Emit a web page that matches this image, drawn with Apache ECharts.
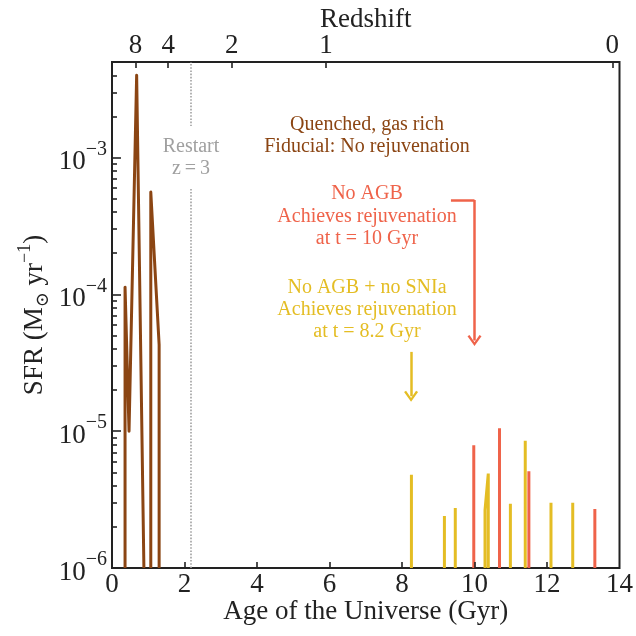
<!DOCTYPE html>
<html><head><meta charset="utf-8">
<script src="https://cdn.jsdelivr.net/npm/echarts@6/dist/echarts.min.js"></script>
<style>html,body{margin:0;padding:0;background:#fff}#c{width:636px;height:636px}</style>
</head><body><div id="c"></div>
<script>
const FONT = '"Liberation Serif","DejaVu Serif","Times New Roman",serif';
const FLOOR = 1e-6; // SFR at / below the bottom of the plotted range

// Quenched, gas rich (fiducial): age (Gyr) and SFR (Msun/yr); null = gap
const brownAge = [0.36, 0.36, 0.47, 0.68, 0.88, null, 1.07, 1.07, 1.30, 1.30];
const brownSFR = [FLOOR, 1.13e-4, 1.0e-5, 4.0e-3, FLOOR, null, FLOOR, 5.6e-4, 4.3e-5, FLOOR];

// No AGB: spikes
const redAge = [9.98, 10.69, 11.50, 13.32];
const redSFR = [7.9e-6, 1.05e-5, 5.1e-6, 2.7e-6];

// No AGB + no SNIa: spikes
const yellowAge = [8.26, 9.17, 9.47, 10.29, 10.38, 10.99, 11.40, 12.11, 12.71];
const yellowSFR = [4.8e-6, 2.4e-6, 2.75e-6, 2.65e-6, 4.9e-6, 2.95e-6, 8.5e-6, 3.0e-6, 3.0e-6];

// Top axis: redshift ticks
const redshiftLabels = ['8', '4', '2', '1', '0'];
const redshiftAge = [0.65, 1.55, 3.3, 5.9, 13.8];

// Restart epoch (z = 3)
const restartAge = 2.16;

// Arrows (age, SFR)
const redArrowAge = [9.35, 10.0, 10.0];
const redArrowSFR = [4.9e-4, 4.9e-4, 4.6e-5];
const yellowArrowAge = [8.25, 8.25];
const yellowArrowSFR = [3.8e-5, 1.8e-5];

const X_MIN = 0, X_MAX = 14, X_STEP = 2;
const Y_MIN = 1e-6, Y_MAX = 5e-3;
const yMajor = [1e-6, 1e-5, 1e-4, 1e-3];
const yMinor = [];
for (let k = -6; k <= -3; k++) for (let m = 2; m <= 9; m++) { const v = m * Math.pow(10, k); if (v < Y_MAX) yMinor.push(v); }

const BROWN = '#8B4513', RED = '#EF634A', YELLOW = '#E4BD24', GRAY = '#A0A0A0', INK = '#222';

function pairs(ages, sfr) {
  return ages.map((a, i) => a === null ? ['-', '-'] : [a, sfr[i]]);
}
function spikeLine(ages, sfr) {
  const out = [];
  for (let i = 0; i < ages.length; i++) {
    const joined = i > 0 && ages[i] - ages[i - 1] < 0.15;
    if (!joined) {
      if (out.length) { out.push([ages[i - 1], FLOOR]); out.push(['-', '-']); }
      out.push([ages[i], FLOOR]);
    }
    out.push([ages[i], sfr[i]]);
  }
  out.push([ages[ages.length - 1], FLOOR]);
  return out;
}
const chevron = 'path://M7,0 L14,10 L12,11.2 L7,3.8 L2,11.2 L0,10 Z';
const GRID = { left: 112, right: 15, top: 62, bottom: 68 };

// tick marks drawn inward through the axes' scales (lengths in px converted to data units)
const PLOT_W = 636 - GRID.left - GRID.right, PLOT_H = 636 - GRID.top - GRID.bottom;
const gyrPerPx = (X_MAX - X_MIN) / PLOT_W;
const decPerPx = Math.log10(Y_MAX / Y_MIN) / PLOT_H;
const tickSegs = [];
for (let t = X_MIN + X_STEP; t < X_MAX; t += X_STEP)
  tickSegs.push([{ coord: [t, Y_MIN] }, { coord: [t, Y_MIN * Math.pow(10, 6 * decPerPx)] }]);
redshiftAge.forEach(t => tickSegs.push([{ coord: [t, Y_MAX] }, { coord: [t, Y_MAX / Math.pow(10, 6 * decPerPx)] }]));
yMajor.slice(1).forEach(v => tickSegs.push([{ coord: [X_MIN, v] }, { coord: [X_MIN + 9 * gyrPerPx, v] }]));
yMinor.forEach(v => tickSegs.push([{ coord: [X_MIN, v] }, { coord: [X_MIN + 5 * gyrPerPx, v] }]));

const chart = echarts.init(document.getElementById('c'));
chart.setOption({
  animation: false,
  grid: Object.assign({ show: true, borderColor: INK, borderWidth: 2, backgroundColor: 'transparent' }, GRID),
  xAxis: [
    { type: 'value', min: X_MIN, max: X_MAX, interval: X_STEP, position: 'bottom',
      name: 'Age of the Universe (Gyr)', nameLocation: 'middle', nameGap: 30, nameMoveOverlap: false,
      nameTextStyle: { fontFamily: FONT, fontSize: 27, color: INK },
      axisLine: { show: false }, axisTick: { show: false },
      axisLabel: { show: true, fontFamily: FONT, fontSize: 27, color: INK, margin: 3 },
      splitLine: { show: false } },
    { type: 'value', min: X_MIN, max: X_MAX, position: 'top',
      name: 'Redshift', nameLocation: 'middle', nameGap: 29, nameMoveOverlap: false,
      nameTextStyle: { fontFamily: FONT, fontSize: 27, color: INK },
      axisLine: { show: false }, axisTick: { show: false },
      axisLabel: { show: true, customValues: redshiftAge, fontFamily: FONT, fontSize: 27, color: INK, margin: 3,
        formatter: v => { let bi = 0; redshiftAge.forEach((a, i) => { if (Math.abs(a - v) < Math.abs(redshiftAge[bi] - v)) bi = i; }); return redshiftLabels[bi]; } },
      splitLine: { show: false } }
  ],
  yAxis: [
    { type: 'log', logBase: 10, min: Y_MIN, max: Y_MAX, position: 'left',
      name: '{a|SFR (M}{sub|⊙}{a| yr}{sup|−1}{a|)}', nameLocation: 'middle', nameRotate: 90, nameGap: 57, nameMoveOverlap: false,
      nameTextStyle: { color: INK, rich: {
        a: { fontFamily: FONT, fontSize: 27, color: INK, lineHeight: 40 },
        sub: { fontFamily: FONT, fontSize: 18, color: INK, lineHeight: 40, verticalAlign: 'bottom', padding: [0, 0, 3, 0] },
        sup: { fontFamily: FONT, fontSize: 18, color: INK, lineHeight: 40, verticalAlign: 'top', padding: [1, 0, 0, 0] } } },
      axisLine: { show: false }, axisTick: { show: false },
      axisLabel: { show: true, customValues: yMajor, margin: 5,
        formatter: v => '{b|10}{s|−' + Math.abs(Math.round(Math.log10(v))) + '}',
        rich: {
          b: { fontFamily: FONT, fontSize: 27, color: INK, verticalAlign: 'bottom', lineHeight: 36 },
          s: { fontFamily: FONT, fontSize: 20, color: INK, verticalAlign: 'top', lineHeight: 36 } } },
      splitLine: { show: false } }
  ],
  series: [
    { type: 'line', data: [], silent: true,
      markLine: { silent: true, symbol: 'none', label: { show: false }, animation: false,
        lineStyle: { color: INK, type: 'solid', width: 1.6 }, emphasis: { disabled: true }, data: tickSegs } },
    { type: 'line', data: pairs(brownAge, brownSFR), showSymbol: false, clip: true,
      lineStyle: { color: BROWN, width: 3, join: 'round' }, silent: true, z: 3,
      markLine: { silent: true, symbol: 'none', label: { show: false },
        lineStyle: { color: GRAY, type: 'dotted', width: 1.6 }, data: [{ xAxis: restartAge }] } },
    { type: 'line', data: spikeLine(redAge, redSFR), showSymbol: false, clip: true,
      lineStyle: { color: RED, width: 3 }, silent: true,
      markLine: { silent: true, label: { show: false }, symbolSize: [14, 11],
        lineStyle: { color: RED, type: 'solid', width: 2.5 },
        data: [
          [{ coord: [redArrowAge[0], redArrowSFR[0]], symbol: 'none' }, { coord: [redArrowAge[1], redArrowSFR[1]], symbol: 'none' }],
          [{ coord: [redArrowAge[1], redArrowSFR[1]], symbol: 'none' }, { coord: [redArrowAge[2], redArrowSFR[2]], symbol: chevron }]
        ] } },
    { type: 'line', data: spikeLine(yellowAge, yellowSFR), showSymbol: false, clip: true,
      lineStyle: { color: YELLOW, width: 3 }, silent: true,
      markLine: { silent: true, label: { show: false }, symbolSize: [14, 11],
        lineStyle: { color: YELLOW, type: 'solid', width: 2.5 },
        data: [
          [{ coord: [yellowArrowAge[0], yellowArrowSFR[0]], symbol: 'none' }, { coord: [yellowArrowAge[1], yellowArrowSFR[1]], symbol: chevron }]
        ] } }
  ],
  graphic: [
    { type: 'text', x: 191, y: 157.5, z: 100, silent: true,
      style: { text: 'Restart\nz\u2009=\u20093', fill: GRAY, font: '20px ' + FONT, align: 'center', verticalAlign: 'middle', lineHeight: 21.6,
        backgroundColor: '#fff', padding: [9, 2, 11, 2] } },
    { type: 'text', x: 367, y: 135.5, z: 100, silent: true,
      style: { text: 'Quenched, gas rich\nFiducial: No rejuvenation', fill: BROWN, font: '20px ' + FONT, align: 'center', verticalAlign: 'middle', lineHeight: 21.7 } },
    { type: 'text', x: 367, y: 216.5, z: 100, silent: true,
      style: { text: 'No AGB\nAchieves rejuvenation\nat t = 10 Gyr', fill: RED, font: '20px ' + FONT, align: 'center', verticalAlign: 'middle', lineHeight: 22.5 } },
    { type: 'text', x: 367, y: 309.5, z: 100, silent: true,
      style: { text: 'No AGB + no SNIa\nAchieves rejuvenation\nat t = 8.2 Gyr', fill: YELLOW, font: '20px ' + FONT, align: 'center', verticalAlign: 'middle', lineHeight: 22 } }
  ]
});
</script></body></html>
